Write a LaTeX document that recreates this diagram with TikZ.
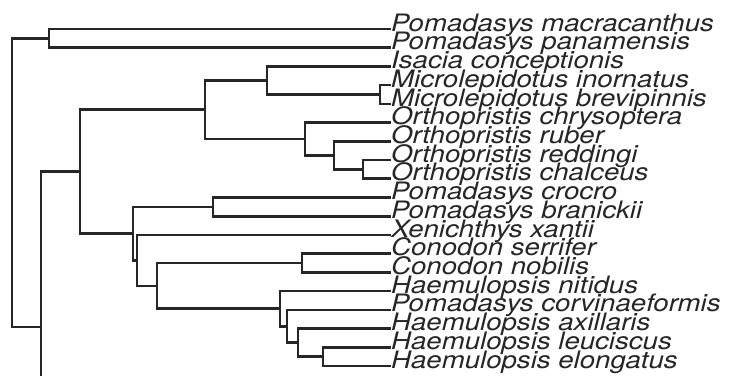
\documentclass[tikz,border=0pt]{standalone}
\usepackage{fontspec}
\usepackage{tikz}
\newfontfamily\taxonfont[FakeStretch=1.15]{TeX Gyre Heros}
\definecolor{Branch}{HTML}{262626}

\begin{document}
\begin{tikzpicture}[x=1pt,y=-1pt,
    branch/.style={draw=Branch,line width=2.6pt},
    taxon/.style={anchor=mid west,inner sep=0pt,text=Branch,
      font=\taxonfont\itshape\fontsize{24}{24}\selectfont}]
  \clip (0,0) rectangle (743,375);

  % tips, one row every 18.72
  \foreach \leaf/\name [count=\i from 0] in
    {macr/Pomadasys macracanthus, pana/Pomadasys panamensis,
     isac/Isacia conceptionis, minor/Microlepidotus inornatus,
     mbrev/Microlepidotus brevipinnis, ochry/Orthopristis chrysoptera,
     orub/Orthopristis ruber, ored/Orthopristis reddingi,
     ochal/Orthopristis chalceus, pcroc/Pomadasys crocro,
     pbran/Pomadasys branickii, xxan/Xenichthys xantii,
     cserr/Conodon serrifer, cnob/Conodon nobilis,
     hnit/Haemulopsis nitidus, pcorv/Pomadasys corvinaeformis,
     haxil/Haemulopsis axillaris, hleuc/Haemulopsis leuciscus,
     helong/Haemulopsis elongatus}
    \node[taxon] (\leaf) at (391,29+18.72*\i) {\name};

  % internal nodes
  \coordinate (nR) at (12,182.7);
  \coordinate (nA) at (49,38.4);
  \coordinate (nB) at (41,327);
  \coordinate (cut) at (41,376);
  \coordinate (nC) at (80,171.7);
  \coordinate (nD) at (205,109.7);
  \coordinate (nE) at (267,80.5);
  \coordinate (nF) at (380,94.5);
  \coordinate (nG) at (305,139);
  \coordinate (nH) at (334,155.3);
  \coordinate (nI) at (363,169.4);
  \coordinate (nJ) at (133,233.6);
  \coordinate (nK) at (213,206.9);
  \coordinate (nL) at (137,260.4);
  \coordinate (nM) at (157,285.8);
  \coordinate (nN) at (302,263);
  \coordinate (nO) at (280,308.7);
  \coordinate (nP) at (287,326.2);
  \coordinate (nQ) at (298,342.6);
  \coordinate (nS) at (323,356.6);

  \draw[branch] (nA) -| (nR) |- (nB);
  \draw[branch] (macr.mid west) -| (nA) |- (pana.mid west);
  \draw[branch] (nC) -| (nB) -- (cut);
  \draw[branch] (nD) -| (nC) |- (nJ);
  \draw[branch] (nE) -| (nD) |- (nG);
  \draw[branch] (isac.mid west) -| (nE) |- (nF);
  \draw[branch] (minor.mid west) -| (nF) |- (mbrev.mid west);
  \draw[branch] (ochry.mid west) -| (nG) |- (nH);
  \draw[branch] (orub.mid west) -| (nH) |- (nI);
  \draw[branch] (ored.mid west) -| (nI) |- (ochal.mid west);
  \draw[branch] (nK) -| (nJ) |- (nL);
  \draw[branch] (pcroc.mid west) -| (nK) |- (pbran.mid west);
  \draw[branch] (xxan.mid west) -| (nL) |- (nM);
  \draw[branch] (nN) -| (nM) |- (nO);
  \draw[branch] (cserr.mid west) -| (nN) |- (cnob.mid west);
  \draw[branch] (hnit.mid west) -| (nO) |- (nP);
  \draw[branch] (pcorv.mid west) -| (nP) |- (nQ);
  \draw[branch] (haxil.mid west) -| (nQ) |- (nS);
  \draw[branch] (hleuc.mid west) -| (nS) |- (helong.mid west);
\end{tikzpicture}
\end{document}
